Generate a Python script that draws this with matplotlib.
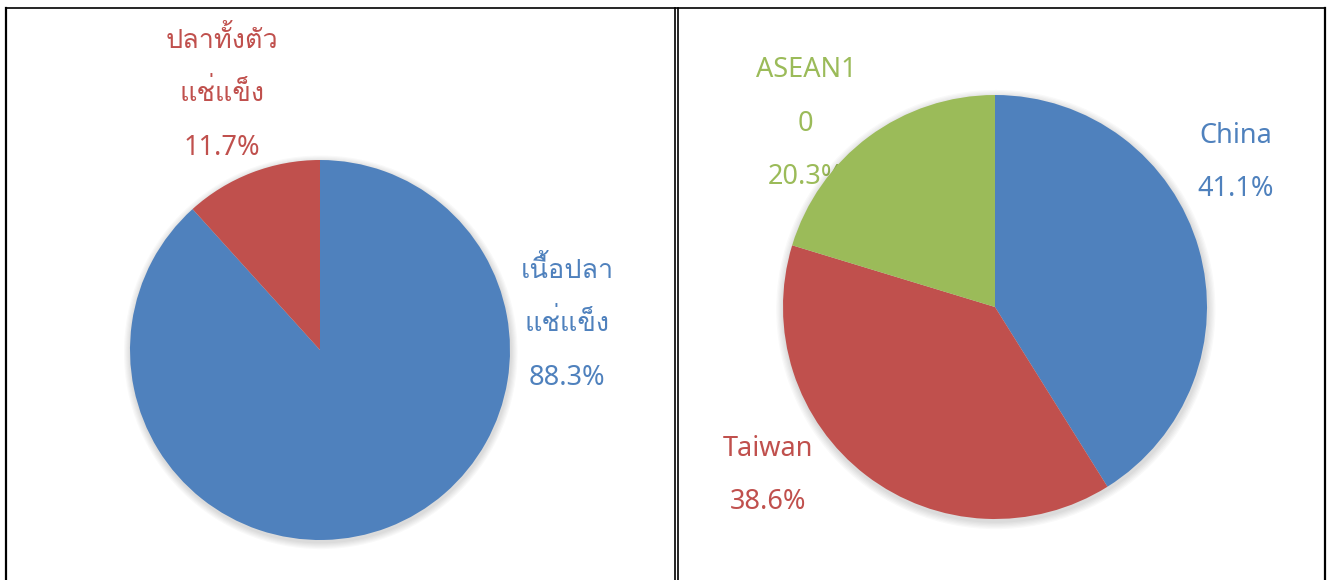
import matplotlib
matplotlib.use("Agg")
import matplotlib.pyplot as plt
from matplotlib import font_manager
from matplotlib.lines import Line2D
from matplotlib.patches import Circle

# ข้อมูล
cat_left = ["เนื้อปลา\nแช่แข็ง", "ปลาทั้งตัว\nแช่แข็ง"]
val_left = [88.3, 11.7]
cat_right = ["China", "Taiwan", "ASEAN1\n0"]
val_right = [41.1, 38.6, 20.3]

colors = ["#4F81BD", "#C0504D", "#9BBB59"]


def find_thai_font():
    try:
        from fontTools.ttLib import TTFont
    except ImportError:
        return []
    found = []
    for f in font_manager.fontManager.ttflist:
        try:
            tt = TTFont(f.fname, fontNumber=0, lazy=True)
            cmap = tt.getBestCmap()
            if cmap and 0x0E1B in cmap:
                found.append(f.name)
        except Exception:
            pass
    return found


thai_fonts = find_thai_font()
plt.rcParams["font.family"] = ["Noto Sans"] + thai_fonts[:1] + ["DejaVu Sans"]

W, H = 1330, 580
fig = plt.figure(figsize=(W / 100, H / 100), dpi=100)
FS = 19.5
LS = 2.2


def add_pie_axes(cx, cy, r, lim=1.2):
    side = 2 * lim * r
    ax = fig.add_axes([(cx - side / 2) / W, (H - cy - side / 2) / H, side / W, side / H])
    ax.set_xlim(-lim, lim)
    ax.set_ylim(-lim, lim)
    ax.set_aspect("equal")
    ax.axis("off")
    return ax


def soft_shadow(ax):
    # เงาจาง ๆ รอบวงกลม
    for k in range(6):
        ax.add_patch(Circle((0.004, -0.012), 1 + 0.006 * (k + 1), color="black",
                            alpha=0.025, lw=0, zorder=1))


# ซ้าย
ax1 = add_pie_axes(320, 350, 190)
soft_shadow(ax1)
ax1.pie(val_left, colors=colors[:2], startangle=90, counterclock=False,
        radius=1, wedgeprops=dict(linewidth=0, zorder=2), frame=False)
ax1.set_xlim(-1.2, 1.2)
ax1.set_ylim(-1.2, 1.2)
pos_left = [(1.30, 0.135), (-0.516, 1.345)]
for i, (lab, v) in enumerate(zip(cat_left, val_left)):
    ax1.text(pos_left[i][0], pos_left[i][1], f"{lab}\n{v:.1f}%", color=colors[i],
             fontsize=FS, ha="center", va="center", linespacing=LS)

# ขวา
ax2 = add_pie_axes(995, 307, 212)
pos_right = [(1.137, 0.68), (-1.071, -0.795), (-0.892, 0.865)]
for i, (lab, v) in enumerate(zip(cat_right, val_right)):
    ax2.text(pos_right[i][0], pos_right[i][1], f"{lab}\n{v:.1f}%", color=colors[i],
             fontsize=FS, ha="center", va="center", linespacing=LS, zorder=0)
soft_shadow(ax2)
ax2.pie(val_right, colors=colors, startangle=90, counterclock=False,
        radius=1, wedgeprops=dict(linewidth=0, zorder=2), frame=False)
ax2.set_xlim(-1.2, 1.2)
ax2.set_ylim(-1.2, 1.2)


# กรอบ
def vline(x, lw):
    fig.add_artist(Line2D([x / W, x / W], [0, (H - 8) / H], color="black", lw=lw))


fig.add_artist(Line2D([6 / W, 1325 / W], [(H - 8) / H] * 2, color="black", lw=1.2))
vline(6, 1.6)
vline(675, 1.2)
vline(678.5, 1.2)
vline(1325, 1.6)

fig.savefig("out.png", dpi=100)
